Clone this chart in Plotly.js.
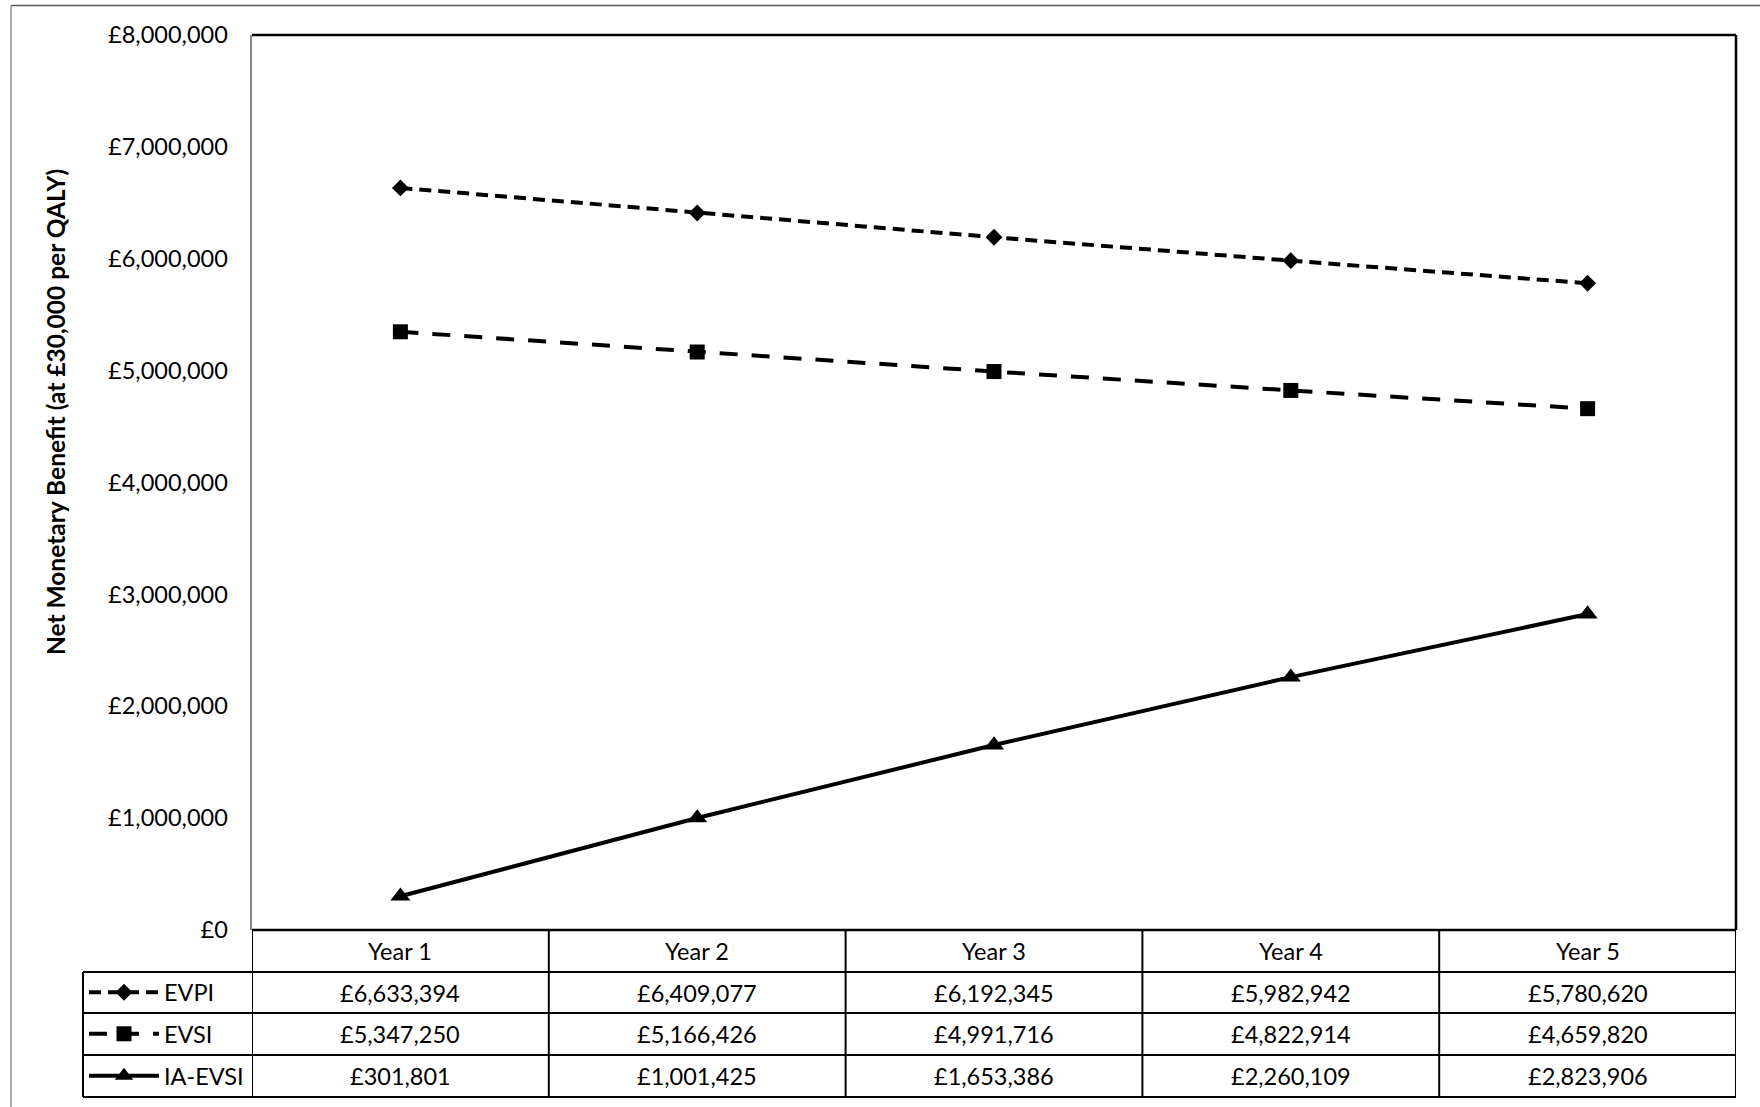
<!DOCTYPE html>
<html><head><meta charset="utf-8">
<script src="https://cdn.plot.ly/plotly-3.0.1.min.js"></script>
<style>body{margin:0;background:#fff}</style>
</head><body><div id="chart" style="width:1760px;height:1107px"></div>
<script>
// ---- data ----
const years = ['Year 1', 'Year 2', 'Year 3', 'Year 4', 'Year 5'];
const evpi = [6633394, 6409077, 6192345, 5982942, 5780620];
const evsi = [5347250, 5166426, 4991716, 4822914, 4659820];
const iaEvsi = [301801, 1001425, 1653386, 2260109, 2823906];
const seriesNames = ['EVPI', 'EVSI', 'IA-EVSI'];
const yTitle = 'Net Monetary Benefit (at £30,000 per QALY)';

// ---- geometry (pixels) ----
const W = 1760, H = 1107;
const plotL = 252, plotR = 1736, plotT = 35, plotB = 930;
const rowLines = [972, 1013, 1055, 1097];
const tableLeft = 83;
const FONT = 'Lato, "Open Sans", sans-serif';
const FS = 23.5;
const px = v => v / W;
const py = v => 1 - v / H;

const seriesData = [evpi, evsi, iaEvsi];
const styles = [
  {dash: '12px,7px', symbol: 'diamond', size: 13},
  {dash: '18px,14px', symbol: 'square', size: 15},
  {dash: 'solid', symbol: 'triangle-up', size: 17.5}
];
const legendIds = ['legend', 'legend2', 'legend3'];

const traces = seriesData.map((vals, i) => ({
  type: 'scatter', mode: 'lines+markers', x: years, y: vals, name: seriesNames[i],
  legend: legendIds[i], showlegend: true, hoverinfo: 'skip',
  line: {color: '#000', width: 4, dash: styles[i].dash},
  marker: {color: '#000', symbol: styles[i].symbol, size: styles[i].size}
}));

const fmt = v => '£' + v.toLocaleString('en-GB');

const shapes = [];
const line = (o) => shapes.push(Object.assign({type: 'line', line: {color: '#000', width: 2}}, o));
// outer chart border
line({xref: 'paper', yref: 'paper', x0: px(11), x1: 1.01, y0: py(5.5), y1: py(5.5), line: {color: '#555', width: 1.5}});
line({xref: 'paper', yref: 'paper', x0: px(11), x1: px(11), y0: py(5.5), y1: -0.01, line: {color: '#aaa', width: 2}});
// plot border top/right
line({xref: 'x domain', yref: 'y domain', x0: 0, x1: 1, y0: 1, y1: 1, line: {color: '#000', width: 2.5}});
line({xref: 'x domain', yref: 'y domain', x0: 1, x1: 1, y0: 0, y1: 1, line: {color: '#000', width: 2.5}});
// table horizontal lines
line({xref: 'x domain', yref: 'paper', x0: 0, x1: 1, y0: py(plotB), y1: py(plotB), line: {color: '#000', width: 2.5}});
rowLines.forEach(r => line({xref: 'paper', yref: 'paper', x0: px(tableLeft), x1: px(plotR), y0: py(r), y1: py(r)}));
// table vertical lines
for (let k = 0; k <= years.length; k++) {
  line({xref: 'x', yref: 'paper', x0: k - 0.5, x1: k - 0.5, y0: py(plotB), y1: py(rowLines[rowLines.length - 1])});
}
line({xref: 'paper', yref: 'paper', x0: px(tableLeft), x1: px(tableLeft), y0: py(rowLines[0]), y1: py(rowLines[rowLines.length - 1])});

const annotations = [];
const rowCenters = [(plotB + rowLines[0]) / 2];
for (let i = 0; i < rowLines.length - 1; i++) rowCenters.push((rowLines[i] + rowLines[i + 1]) / 2);
years.forEach((yr, k) => {
  annotations.push({xref: 'x', yref: 'paper', x: k, y: py(rowCenters[0]), text: yr, showarrow: false,
    xanchor: 'center', yanchor: 'middle', font: {family: FONT, size: FS, color: '#000'}});
  seriesData.forEach((vals, i) => {
    annotations.push({xref: 'x', yref: 'paper', x: k, y: py(rowCenters[i + 1]), text: fmt(vals[k]), showarrow: false,
      xanchor: 'center', yanchor: 'middle', font: {family: FONT, size: FS, color: '#000'}});
  });
});
annotations.push({xref: 'paper', yref: 'paper', x: px(56), y: py(412), text: '<b>' + yTitle + '</b>', textangle: -90,
  showarrow: false, xanchor: 'center', yanchor: 'middle', font: {family: FONT, size: 24.5, color: '#000'}});

const layout = {
  width: W, height: H, margin: {l: 0, r: 0, t: 0, b: 0},
  paper_bgcolor: '#fff', plot_bgcolor: '#fff', showlegend: true,
  font: {family: FONT, size: FS, color: '#000'},
  xaxis: {domain: [px(plotL), px(plotR)], type: 'category', range: [-0.5, years.length - 0.5],
    showticklabels: false, showgrid: false, zeroline: false, showline: false, ticks: ''},
  yaxis: {domain: [py(plotB), py(plotT)], range: [0, 8000000], dtick: 1000000, tick0: 0,
    tickprefix: '£', tickformat: ',d', showgrid: false, zeroline: false,
    showline: true, linecolor: '#868686', linewidth: 2.5, ticks: '', ticklabelstandoff: 17,
    tickfont: {family: FONT, size: FS, color: '#000'}},
  shapes: shapes, annotations: annotations, hovermode: false
};
legendIds.forEach((id, i) => {
  layout[id] = {x: px(tableLeft + 1), xanchor: 'left', y: py(rowCenters[i + 1]), yanchor: 'middle',
    bgcolor: 'rgba(0,0,0,0)', borderwidth: 0, itemwidth: 70, visible: true,
    font: {family: FONT, size: FS, color: '#000'}};
});

Plotly.newPlot('chart', traces, layout, {displayModeBar: false, staticPlot: true});
</script></body></html>
